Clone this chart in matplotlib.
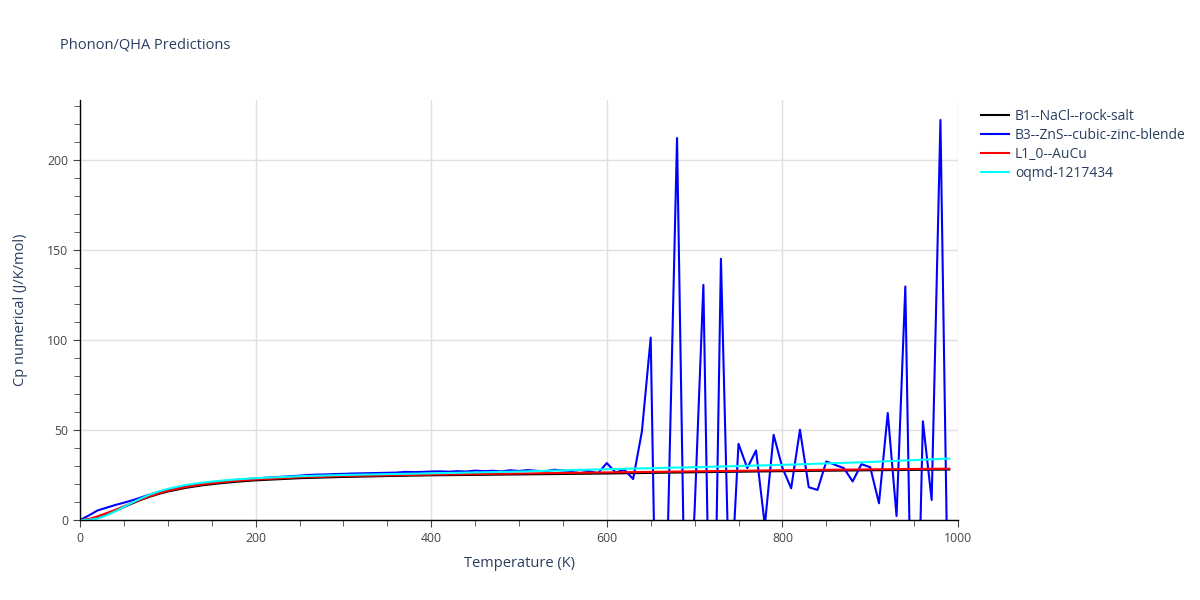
import numpy as np
import matplotlib.pyplot as plt
from matplotlib.ticker import MultipleLocator

plt.rcParams['font.family'] = ['Open Sans', 'DejaVu Sans']

# B1--NaCl--rock-salt
t_b1 = [0, 10, 20, 30, 40, 50, 60, 70, 80, 90, 100, 120, 140, 160, 180, 200,
        250, 300, 350, 400, 500, 600, 700, 800, 900, 990]
cp_b1 = [0, 0.3, 1.3, 3.0, 5.0, 7.2, 9.3, 11.3, 13.0, 14.5, 15.8, 17.8, 19.3,
         20.4, 21.3, 22.0, 23.2, 23.9, 24.4, 24.8, 25.3, 25.8, 26.5, 27.1, 27.6, 28.0]

# B3--ZnS--cubic-zinc-blende (every 10 K)
t_b3 = list(range(0, 1000, 10))
cp_b3 = [0, 2.5, 5.3, 6.8, 8.3, 9.6, 11.0, 12.6, 14.2, 15.6,
         16.8, 17.9, 18.8, 19.6, 20.3, 20.9, 21.4, 21.9, 22.3, 22.7,
         23.0, 23.4, 23.7, 24.0, 24.3, 24.6, 25.0, 25.2, 25.3, 25.5,
         25.6, 25.8, 25.9, 26.0, 26.1, 26.2, 26.3, 26.7, 26.6, 26.7,
         26.9, 27.0, 26.8, 27.1, 26.9, 27.4, 27.1, 27.3, 27.0, 27.6,
         27.2, 27.7, 27.3, 27.0, 27.9, 27.5, 27.2, 27.8, 27.0, 26.0,
         31.6, 26.4, 27.9, 22.7, 49.2, 101.2, -180, 3, 212, -87,
         5, 130.5, -153, 145, -51, 42.3, 28.8, 38.6, -3, 47.3,
         29.0, 17.6, 50.1, 18.2, 16.7, 32.5, 30.6, 28.8, 21.4, 31.0,
         29.3, 9.3, 59.4, 2.2, 129.6, -152, 54.8, 11.1, 222, -95]

# L1_0--AuCu
t_l10 = [0, 10, 20, 30, 40, 50, 60, 70, 80, 90, 100, 120, 140, 160, 180, 200,
         250, 300, 400, 500, 600, 700, 800, 900, 990]
cp_l10 = [0, 0.5, 2.0, 3.8, 5.6, 7.6, 9.6, 11.5, 13.3, 14.8, 16.2, 18.3, 19.8,
          20.9, 21.8, 22.5, 23.7, 24.4, 25.2, 25.8, 26.4, 27.0, 27.6, 28.1, 28.5]

# oqmd-1217434
t_oq = [0, 10, 20, 30, 40, 50, 60, 70, 80, 90, 100, 120, 140, 160, 180, 200,
        250, 300, 400, 500, 600, 700, 800, 900, 990]
cp_oq = [0, 0.1, 0.8, 2.5, 4.8, 7.3, 9.8, 12.1, 14.2, 15.9, 17.3, 19.4, 20.8,
         21.8, 22.6, 23.2, 24.3, 25.0, 25.9, 26.9, 28.2, 29.3, 30.6, 32.2, 34.1]

series = [
    ('B1--NaCl--rock-salt', t_b1, cp_b1, 'black'),
    ('B3--ZnS--cubic-zinc-blende', t_b3, cp_b3, 'blue'),
    ('L1_0--AuCu', t_l10, cp_l10, 'red'),
    ('oqmd-1217434', t_oq, cp_oq, 'cyan'),
]

text_color = '#2a3f5f'
tick_color = '#444444'

fig = plt.figure(figsize=(12, 6), dpi=100)
ax = fig.add_axes([80 / 1200, 80 / 600, 878 / 1200, 420 / 600])

for name, t, cp, color in series:
    ax.plot(t, cp, color=color, linewidth=1.5, label=name)

ax.set_xlim(0, 1000)
ax.set_ylim(0, 1.05 * max(cp_b3))

ax.xaxis.set_major_locator(MultipleLocator(200))
ax.xaxis.set_minor_locator(MultipleLocator(50))
ax.yaxis.set_major_locator(MultipleLocator(50))
ax.yaxis.set_minor_locator(MultipleLocator(10))
ax.grid(True, which='major', color='#e0e0e0', linewidth=1)
ax.set_axisbelow(True)

for side in ['top', 'right']:
    ax.spines[side].set_visible(False)
for side in ['bottom', 'left']:
    ax.spines[side].set_color('black')
    ax.spines[side].set_linewidth(1)

ax.tick_params(which='both', direction='out', color='#444444', labelcolor=tick_color,
               labelsize=8.8)
ax.tick_params(which='major', length=5)
ax.tick_params(which='minor', length=4)

ax.set_xlabel('Temperature (K)', color=text_color, fontsize=10.5, labelpad=8)
ax.set_ylabel('Cp numerical (J/K/mol)', color=text_color, fontsize=10.5, labelpad=14)

fig.text(60 / 1200, 1 - 45 / 600, 'Phonon/QHA Predictions', color=text_color,
         fontsize=10.5, va='center', ha='left')

leg = ax.legend(loc='upper left', bbox_to_anchor=(981 / 1200, 1 - 109 / 600),
                bbox_transform=fig.transFigure, frameon=False, fontsize=10,
                handlelength=2.0, handletextpad=0.45, labelspacing=0.28,
                borderaxespad=0, borderpad=0)
for txt in leg.get_texts():
    txt.set_color(text_color)

fig.savefig('out.png', dpi=100)
